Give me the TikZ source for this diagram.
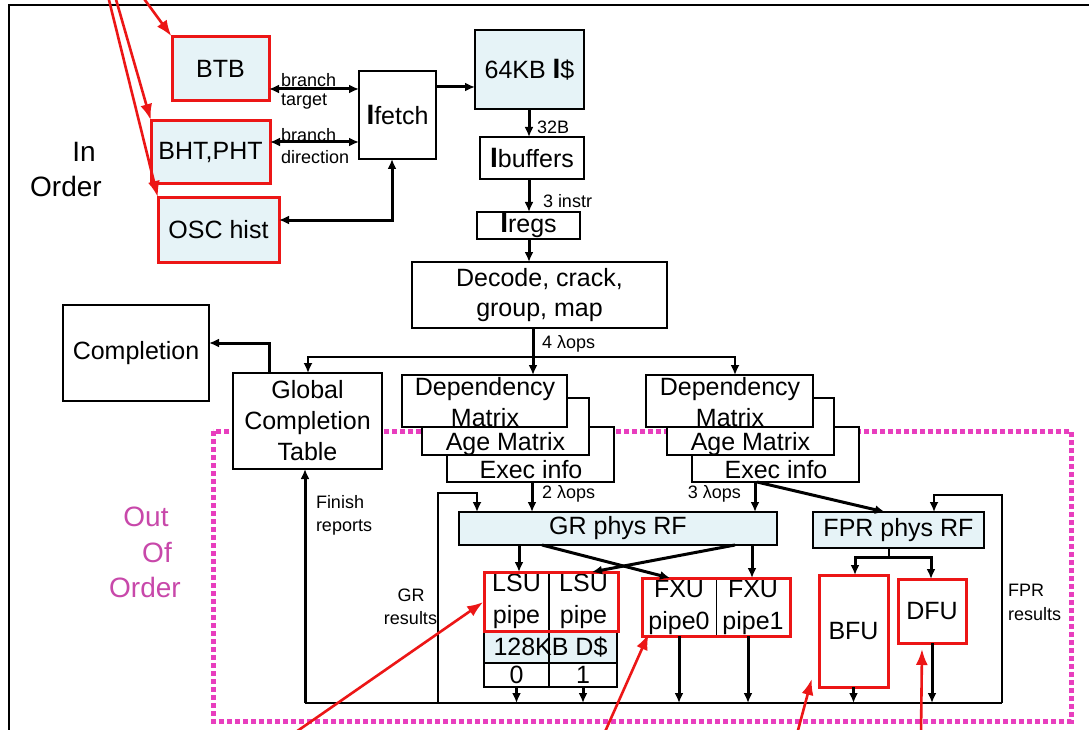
\documentclass[tikz,border=0pt]{standalone}
\usepackage{fontspec}
\setmainfont{Liberation Sans}
\usetikzlibrary{arrows.meta,calc}

\definecolor{cachefill}{RGB}{230,243,247}
\definecolor{callred}{RGB}{236,22,22}
\definecolor{oooline}{RGB}{232,62,190}
\definecolor{oootext}{RGB}{200,72,170}

% box given by its left, top, right and bottom edges
\newcommand\rectnode[7]{%
  \node[#6,minimum width={(#4)-(#2)},minimum height={(#5)-(#3)}] (#1)
    at ({((#2)+(#4))/2},{((#3)+(#5))/2}) {#7};}
% heavy instruction-side "I"
\newcommand\Ibar{{\fontsize{28}{31}\selectfont\bfseries I}}

\begin{document}
\begin{tikzpicture}[x=1pt,y=-1pt,
  box/.style={draw=black,line width=1.3pt,inner sep=0pt,outer sep=0pt,align=center,
    font=\fontsize{25}{31}\selectfont},
  whitebox/.style={box,fill=white},
  tintbox/.style={box,fill=cachefill},
  hotbox/.style={box,fill=cachefill,draw=callred,line width=3pt},
  hotwhite/.style={box,fill=white,draw=callred,line width=3pt},
  cell/.style={inner sep=0pt,outer sep=0pt,align=center,font=\fontsize{25}{32}\selectfont},
  txt/.style={inner sep=0pt,outer sep=0pt,align=center,font=\fontsize{25}{31}\selectfont},
  small/.style={inner sep=0pt,outer sep=0pt,font=\fontsize{18}{20}\selectfont},
  side/.style={inner sep=0pt,outer sep=0pt,font=\fontsize{28}{34}\selectfont},
  arr/.style={line width=3pt,-{Latex[length=10pt,width=9pt]}},
  dblarr/.style={line width=3pt,{Latex[length=10pt,width=9pt]}-{Latex[length=10pt,width=9pt]}},
  thinarr/.style={line width=1.8pt,-{Latex[length=10pt,width=9pt]}},
  thinline/.style={line width=1.8pt},
  callout/.style={draw=callred,line width=2.6pt,-{Latex[length=16pt,width=12pt]},shorten >=1pt},
]
\useasboundingbox (0,0) rectangle (1089,730);
\fill[white] (0,0) rectangle (1089,730);

% outer frame
\draw[line width=1.8pt] (9,740) -- (9,5) -- (1100,5);

% out-of-order region
\draw[oooline,line width=5pt,dash pattern=on 5pt off 3pt] (213,431) rectangle (1071,721);

% side captions
\node[side] (inA) at (84,152) {In};
\node[side] (inB) at (66,186) {Order};
\node[side,text=oootext] (ooA) at (146,517) {Out};
\node[side,text=oootext] (ooB) at (157,553) {Of};
\node[side,text=oootext] (ooC) at (145,587) {Order};

% front end
\rectnode{btb}{172}{37}{269}{101}{hotbox}{BTB}
\rectnode{bht}{151}{121}{270}{184}{hotbox}{BHT,PHT}
\rectnode{osc}{158}{198}{279}{262}{hotbox}{OSC hist}
\rectnode{ifetch}{359}{71}{436}{159}{whitebox}{\Ibar fetch}
\rectnode{icache}{475}{30}{584}{109}{tintbox}{64KB \Ibar\$}
\rectnode{ibuf}{480}{137}{584}{179}{whitebox}{\Ibar buffers}
\rectnode{iregs}{477}{212}{580}{239}{whitebox}{\Ibar regs}
\rectnode{decode}{412}{262}{667}{328}{whitebox,font=\fontsize{25}{30}\selectfont}{Decode, crack,\\group, map}
\rectnode{completion}{63}{305}{209}{401}{whitebox}{Completion}
\rectnode{gct}{233}{373}{382}{469}{whitebox}{Global\\Completion\\Table}

% issue queues (stacked tables)
\rectnode{exec1}{447}{427}{614}{482}{whitebox}{}
\rectnode{age1}{422}{398}{589}{455}{whitebox}{}
\rectnode{dep1}{402}{375}{567}{427}{whitebox}{}
\node[txt] (dep1t) at (485,402) {Dependency\\Matrix};
\node[txt] (age1t) at (505.5,444) {Age Matrix};
\node[txt] (exec1t) at (531,470) {Exec info};

\rectnode{exec2}{692}{427}{859}{482}{whitebox}{}
\rectnode{age2}{667}{398}{834}{455}{whitebox}{}
\rectnode{dep2}{646}{375}{813}{427}{whitebox}{}
\node[txt] (dep2t) at (730,402) {Dependency\\Matrix};
\node[txt] (age2t) at (750.5,444) {Age Matrix};
\node[txt] (exec2t) at (776,470) {Exec info};

% register files
\rectnode{grrf}{459}{512}{777}{545}{tintbox}{GR phys RF}
\rectnode{fprrf}{813}{512}{984}{548}{tintbox}{FPR phys RF}

% load/store units and data cache
\rectnode{lsuA}{484}{572}{549}{631}{cell}{LSU\\pipe}
\rectnode{lsuB}{549}{572}{618}{631}{cell}{LSU\\pipe}
\rectnode{dcache}{484}{631}{617}{663}{tintbox}{128KB D\$}
\rectnode{bank0}{484}{663}{549}{687}{whitebox}{0}
\rectnode{bank1}{549}{663}{617}{687}{whitebox}{1}
\draw[line width=2.4pt] (lsuA.north east) -- (bank0.south east);
\draw[draw=callred,line width=3pt] (lsuA.north west) rectangle (lsuB.south east);

% fixed point units
\rectnode{fxuA}{642}{578}{716}{636}{cell}{FXU\\pipe0}
\rectnode{fxuB}{716}{578}{790}{636}{cell}{FXU\\pipe1}
\draw[line width=1pt] (fxuA.north east) -- (fxuA.south east);
\draw[draw=callred,line width=3pt] (fxuA.north west) rectangle (fxuB.south east);

% floating point units
\rectnode{bfu}{819}{575}{888}{687}{hotwhite}{BFU}
\rectnode{dfu}{898}{579}{966}{643}{hotwhite}{DFU}

% front-end connections
\draw[dblarr] (btb.east |- 0,89) -- (ifetch.west |- 0,89);
\node[small,anchor=west] (lbtA) at (281,80) {branch};
\node[small,anchor=west] (lbtB) at (281,102) {target};
\draw[dblarr] (bht.east |- 0,142) -- (ifetch.west |- 0,142);
\node[small,anchor=west] (lbdA) at (281,135) {branch};
\node[small,anchor=west] (lbdB) at (281,157) {direction};
\draw[dblarr] (ifetch.south -| 392,0) |- (osc.east |- 0,220);
\draw[arr] (ifetch.east |- 0,87) -- (icache.west |- 0,87);
\draw[arr] (icache.south -| 529,0) -- (ibuf.north -| 529,0);
\node[small,anchor=west] (l32) at (537,127) {32B};
\draw[arr] (ibuf.south -| 529,0) -- (iregs.north -| 529,0);
\node[small,anchor=west] (l3i) at (543,201) {3 instr};
\draw[arr] (iregs.south -| 529,0) -- (decode.north -| 529,0);

% dispatch
\coordinate (fork) at (533,357);
\draw[arr] (decode.south -| fork) -- (dep1.north -| fork);
\node[small,anchor=west] (l4) at (542,344) {4 λops};
\draw[thinarr] (fork) -| (gct.north -| 308,0);
\draw[thinarr] (fork) -| (dep2.north -| 735,0);
\draw[arr] (gct.north -| 269,0) |- (completion.east |- 0,343);

% issue
\draw[arr] (exec1.south -| 532,0) -- (grrf.north -| 532,0);
\node[small,anchor=west] (l2) at (542,494) {2 λops};
\draw[arr] (exec2.south -| 755,0) -- (grrf.north -| 755,0);
\node[small,anchor=east] (l3) at (741,494) {3 λops};
\draw[arr] (exec2.south -| 757,0) -- (fprrf.north -| 885,0);

% result bus and write-back paths
\coordinate (busL) at (305,703);
\coordinate (busR) at (1002,703);
\draw[thinline] (busL) -- (busR);
\draw[arr] (busL) -- (gct.south -| busL);
\node[small,anchor=west] (lfin) at (316,502) {Finish};
\node[small,anchor=west] (lrep) at (316,528) {reports};
\draw[thinarr] (busL -| 438,0) -- (438,493) -| (grrf.north -| 477,0);
\node[small] (lgrA) at (411,595) {GR};
\node[small,anchor=east] (lgrB) at (437,618) {results};
\draw[thinarr] (busR) -- (1002,495) -| (fprrf.north -| 934,0);
\node[small,anchor=west] (lfpA) at (1008,590) {FPR};
\node[small,anchor=west] (lfpB) at (1008,614) {results};

% register file read ports
\draw[arr] (grrf.south -| 519,0) -- (lsuA.north -| 519,0);
\draw[arr] (grrf.south -| 542,0) -- (fxuA.north -| 670,0);
\draw[arr] (grrf.south -| 735,0) -- (lsuB.north -| 592,0);
\draw[arr] (grrf.south -| 752,0) -- (fxuB.north -| 752,0);
\coordinate (fsplit) at (889,557);
\draw[thinline] (fprrf.south -| fsplit) -- (fsplit);
\draw[arr] (fsplit) -| (bfu.north -| 855,0);
\draw[arr] (fsplit) -| (dfu.north -| 931,0);

% unit outputs to the result bus
\draw[arr] (bank0.south) -- (bank0.south |- busL);
\draw[arr] (bank1.south) -- (bank1.south |- busL);
\draw[arr] (fxuA.south) -- (fxuA.south |- busL);
\draw[arr] (fxuB.south -| 748,0) -- (busL -| 748,0);
\draw[arr] (bfu.south) -- (bfu.south |- busL);
\draw[arr] (dfu.south) -- (dfu.south |- busL);

% red call-outs
\coordinate (pA) at (108,-4);
\coordinate (pB) at (115,-4);
\coordinate (pC) at (142,-4);
\draw[callout] (pA) -- (osc.north west);
\draw[callout] (pB) -- (bht.north west);
\draw[callout] (pC) -- (btb.north west);
\coordinate (pD) at (293,734);
\coordinate (pE) at (604,734);
\coordinate (pF) at (797,734);
\coordinate (pG) at (921,734);
\draw[callout] (pD) -- (lsuA.west);
\draw[callout] (pE) -- ($(fxuA.south west)+(7,-3)$);
\draw[callout] (pF) -- ($(bfu.south west)+(-7,-9)$);
\draw[callout] (pG) -- ($(dfu.south)+(-10,5)$);
\end{tikzpicture}
\end{document}
